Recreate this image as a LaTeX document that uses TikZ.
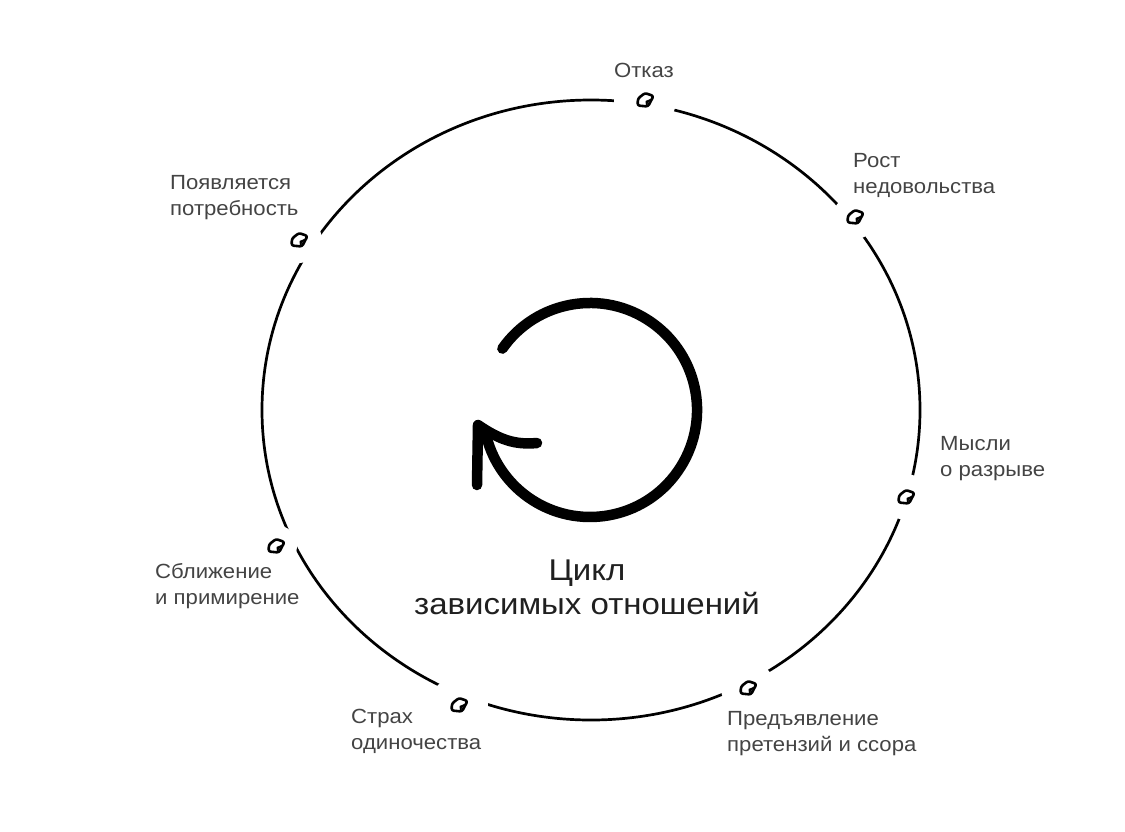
\documentclass[tikz,border=0pt]{standalone}
\usepackage{fontspec}
\setmainfont{Liberation Sans}
\newfontfamily\labfont[FakeStretch=1.08]{Liberation Sans}
\newfontfamily\ttlfont[FakeStretch=1.1]{Liberation Sans}
\definecolor{lbl}{HTML}{444444}
\definecolor{ttl}{HTML}{202020}
\begin{document}
\begin{tikzpicture}[x=1pt,y=-1pt,
  lab/.style={text=lbl,font=\labfont\fontsize{20.5}{25.5}\selectfont,inner sep=0pt,align=left},
  leafmark/.pic={
    \draw[line width=2.6pt,rounded corners=2.2pt,line join=round]
      (-7.5pt,-5.5pt) -- (3pt,-6.5pt) -- (8.5pt,4pt) -- (0pt,7pt) -- (-7pt,1.5pt) -- cycle;
    \fill (1pt,-6pt) -- (6.5pt,1.5pt) -- (0.5pt,-1pt) -- cycle;
  }]
\useasboundingbox (0,0) rectangle (1125,831);
\fill[white] (0,0) rectangle (1125,831);
% big cycle
\coordinate (c) at (591,410);
\draw[line width=2.7pt] (c) ellipse [x radius=329pt, y radius=310pt];
% markers
\coordinate (m1) at (645,100);
\coordinate (m2) at (855,217);
\coordinate (m3) at (906,497);
\coordinate (m4) at (748,688);
\coordinate (m5) at (459,705);
\coordinate (m6) at (276,546);
\coordinate (m7) at (299,240);
\foreach \m/\g in {m1/31,m2/22,m3/23,m4/27,m5/29,m6/21,m7/23}
  \fill[white] (\m) circle[radius=\g pt];
\foreach \m in {m1,m2,m3,m4,m5,m6,m7} \pic at (\m) {leafmark};
% labels (anchor = baseline of last line)
\node[lab,anchor=base] (l1) at (644,77) {Отказ};
\node[lab,anchor=base west] (l2) at (853,193) {Рост\\недовольства};
\node[lab,anchor=base west] (l3) at (940,476) {Мысли\\о разрыве};
\node[lab,anchor=base west] (l4) at (727,751) {Предъявление\\претензий и ссора};
\node[lab,anchor=base west] (l5) at (351,749) {Страх\\одиночества};
\node[lab,anchor=base west] (l6) at (155,604) {Сближение\\и примирение};
\node[lab,anchor=base west] (l7) at (170,215) {Появляется\\потребность};
% central arrow
\coordinate (as) at (502.4,348.6);
\coordinate (tip) at (478,425);
\coordinate (t1) at (477,485);
\coordinate (t2) at (537,443);
\draw[line width=10.5pt,line cap=round] (as) arc[start angle=145,end angle=-168,radius=107pt];
\draw[line width=10.5pt,line cap=round,line join=round] (t1) -- (tip) .. controls (500,440) and (515,445) .. (t2);
% title
\node[text=ttl,font=\ttlfont\fontsize{30}{34}\selectfont,align=center,inner sep=0pt,anchor=base] (t) at (587,614) {Цикл\\зависимых отношений};
\end{tikzpicture}
\end{document}
